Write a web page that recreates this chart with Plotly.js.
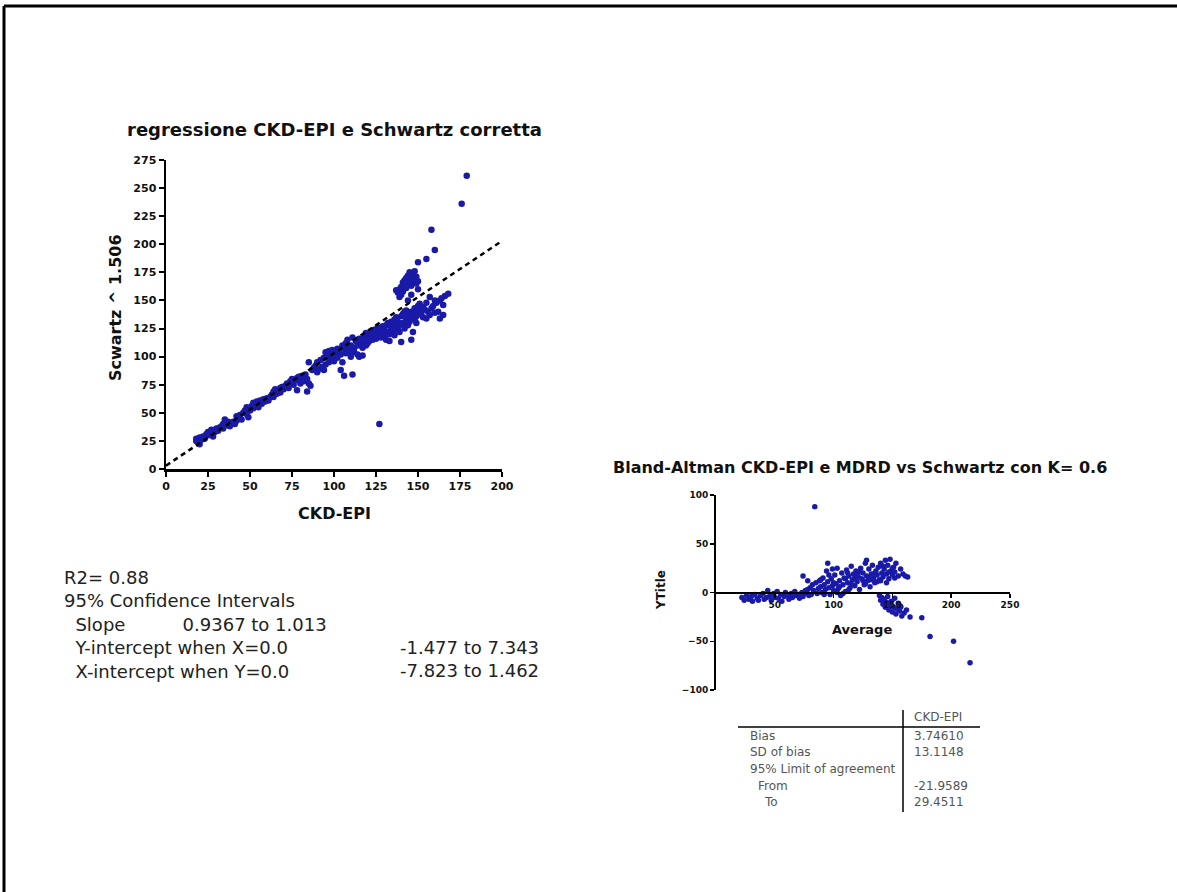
<!DOCTYPE html>
<html><head><meta charset="utf-8">
<script src="https://cdn.plot.ly/plotly-3.0.1.min.js"></script>
<style>html,body{margin:0;padding:0;background:#fff;}#chart{width:1177px;height:892px;}</style>
</head><body><div id="chart"></div>
<script>
// ---- Regression chart data (CKD-EPI vs Schwartz ^ 1.506) ----
const ckdEpi = [
 18,18,19,20,20,21,22,23,24,25,25,26,27,28,28,29,30,31,32,33,34,34,35,35,36,37,38,38,39,40,41,42,42,43,44,45,46,47,48,48,49,50,51,52,52,53,54,55,56,57,58,59,60,61,
 62,63,64,64,65,66,67,68,68,69,70,71,72,73,74,75,75,76,77,78,78,79,80,80,81,82,83,84,84,85,85,86,87,88,89,90,90,91,92,93,94,94,
 95,95,96,97,97,98,99,99,100,100,101,102,102,103,104,104,105,105,106,106,107,107,108,108,109,110,110,111,111,112,112,113,114,114,115,115,116,117,117,118,118,119,119,120,120,
 121,121,122,122,123,123,124,124,125,125,126,126,127,127,128,128,129,129,130,130,131,131,132,132,133,133,134,134,135,135,136,136,137,137,138,138,139,139,140,140,141,141,
 142,142,143,143,144,144,145,145,146,146,147,147,148,148,149,149,150,150,151,151,152,153,153,154,155,155,156,157,157,158,159,160,160,161,162,163,163,164,165,166,168,165,
 137,138,139,139,140,140,141,141,142,142,143,143,144,144,145,145,146,146,147,147,148,148,149,149,150,150,144,146,
 150,155,160,158,176,179
];
const schwartz = [
 25,27,24,22,28,26,29,27,31,30,33,32,35,29,34,33,36,34,37,38,40,36,44,41,39,42,38,40,41,42,40,43,47,45,48,44,50,52,55,49,46,52,56,59,54,57,60,55,61,58,62,60,63,61,
 64,66,69,64,71,67,70,72,68,73,71,74,76,72,78,77,80,75,79,81,70,82,80,76,83,78,84,69,80,76,95,74,88,90,92,86,95,89,97,91,88,99,
 104,93,100,105,95,102,106,98,104,96,101,107,99,105,88,102,110,95,83,107,112,103,108,115,105,110,100,84,117,108,104,114,110,102,116,100,112,108,101,118,113,121,110,116,112,
 119,114,122,117,115,120,124,118,121,116,126,119,123,40,117,125,121,127,118,124,128,115,122,130,120,114,126,131,123,129,119,133,127,135,124,131,128,122,136,113,130,138,
 125,140,133,141,128,137,135,131,115,140,122,138,133,143,136,130,141,145,147,138,139,135,144,142,134,148,140,153,137,143,145,150,139,148,140,150,134,152,137,154,156,146,
 159,157,153,160,155,162,158,166,164,168,161,170,166,172,168,175,163,171,167,173,169,176,165,171,167,160,150,155,
 184,187,195,213,236,261
];
const fitX = [0, 206];
const fitY = [3, 209];
const regTicksX = [0,25,50,75,100,125,150,175,200];
const regTicksY = [0,25,50,75,100,125,150,175,200,225,250,275];

// ---- Bland-Altman data ----
const baAverage = [
 22,24,26,28,30,31,33,35,36,38,40,41,43,44,46,47,49,50,52,53,55,56,58,59,61,62,64,65,67,68,70,71,73,74,76,77,78,79,74,78,
 80,81,82,83,84,85,86,87,88,89,90,91,92,93,94,95,95,96,97,98,99,100,101,102,103,104,105,106,107,108,109,110,111,112,113,114,115,116,117,118,119,120,121,122,123,124,125,126,127,128,128,129,130,131,132,133,134,135,136,137,138,139,140,141,142,143,144,145,146,147,148,149,150,151,152,153,155,157,159,161,163,
 100,105,110,115,120,125,130,135,140,145,150,112,118,122,127,132,137,142,147,152,89,92,96,99,103,108,113,
 139,140,141,142,143,144,145,146,147,148,149,150,151,152,153,154,155,156,157,158,160,162,165,157,175,182,202,216
];
const baDifference = [
 -5,-8,-3,-7,-4,-9,-2,-6,-8,-3,-1,-7,-5,2,-3,-8,-1,-5,1,-6,-2,-9,-4,0,-3,-7,-1,-5,1,-3,-2,-6,0,-4,2,-1,3,-3,17,12,
 5,-2,8,2,88,10,-1,4,12,6,0,15,8,3,22,30,11,5,-2,14,7,2,18,9,25,4,12,-3,20,8,15,1,23,10,17,5,27,13,19,7,22,11,16,3,25,14,20,8,30,33,17,12,24,6,19,28,15,10,22,18,26,13,30,20,16,24,33,19,28,14,34,22,18,26,21,30,17,24,19,17,16,
 10,6,14,9,18,12,15,20,12,10,25,20,15,21,9,13,11,27,21,15,13,-2,18,24,0,-1,3,
 -3,-8,-5,-12,-7,-15,-10,-4,-18,-13,-9,-20,-15,-6,-22,-17,-11,-19,-14,-24,-21,-18,-25,-15,-26,-45,-50,-72
];
const baTicksX = [50,100,150,200,250];
const baTicksY = [-100,-50,0,50,100];

// ---- Texts ----
const statsLabels = ["R2= 0.88","95% Confidence Intervals","Slope","Y-intercept when X=0.0","X-intercept when Y=0.0"];
const statsValues = ["","","0.9367 to 1.013","-1.477 to 7.343","-7.823 to 1.462"];
const tableRows = ["Bias","SD of bias","95% Limit of agreement","From","To"];
const tableValues = ["3.74610","13.1148","","-21.9589","29.4511"];
const tableHeader = "CKD-EPI";

const W = 1177, H = 892;
const px = v => v / W, py = v => 1 - v / H;
const boldFont = (s) => ({family:'DejaVu Sans, Liberation Sans, Arial', weight:'bold', size:s, color:'#111'});
const blue = '#1a1aa8';
const NB = '\u00A0';

const traces = [
  {type:'scatter', mode:'markers', x:ckdEpi, y:schwartz, xaxis:'x', yaxis:'y',
   marker:{color:blue, size:6.5}, cliponaxis:false, hoverinfo:'skip'},
  {type:'scatter', mode:'lines', x:fitX, y:fitY, xaxis:'x', yaxis:'y',
   line:{color:'#000', width:2.5, dash:'5px,4px'}, hoverinfo:'skip'},
  {type:'scatter', mode:'markers', x:baAverage, y:baDifference, xaxis:'x2', yaxis:'y2',
   marker:{color:blue, size:5.5}, cliponaxis:false, hoverinfo:'skip'}
];

const axCommon = {showline:true, linecolor:'#000', showgrid:false, zeroline:false,
  ticks:'outside', tickcolor:'#000', fixedrange:true};

function ann(text, x, y, o) {
  return Object.assign({text:text, x:px(x), y:py(y), xref:'paper', yref:'paper',
    showarrow:false, xanchor:'center', yanchor:'middle'}, o || {});
}

const annotations = [
  ann('regressione CKD-EPI e Schwartz corretta', 334, 129, {font:boldFont(18)}),
  ann('CKD-EPI', 334, 513, {font:boldFont(16)}),
  ann('Scwartz ^ 1.506', 115, 308, {font:boldFont(16), textangle:-90}),
  ann('Bland-Altman CKD-EPI e MDRD vs Schwartz con K= 0.6', 860, 468, {font:boldFont(16)}),
  ann('Average', 862, 629, {font:boldFont(13)}),
  ann('YTitle', 661, 590, {font:boldFont(12), textangle:-90})
];

// statistics block: one multi-line text for labels, one for the right-hand values
const textFont = {family:'DejaVu Sans, Open Sans, sans-serif', size:18, color:'#222'};
const indent = NB + NB;
const labelLines = [
  statsLabels[0],
  statsLabels[1],
  indent + statsLabels[2] + NB.repeat(10) + statsValues[2],
  indent + statsLabels[3],
  indent + statsLabels[4]
];
annotations.push(ann(labelLines.join('<br>'), 62, 565, {xanchor:'left', yanchor:'top', align:'left', font:textFont}));
annotations.push(ann([statsValues[3], statsValues[4]].join('<br>'), 398, 635, {xanchor:'left', yanchor:'top', align:'left', font:textFont}));

const tblFont = {family:'DejaVu Sans, Liberation Sans, Arial', size:12, color:'#555'};
annotations.push(ann(tableHeader, 912, 717, {xanchor:'left', font:tblFont}));
const rowY = [736, 752, 769, 786, 802];
const rowX = [748, 748, 748, 756, 762];
tableRows.forEach((t,i) => annotations.push(ann(t, rowX[i], rowY[i], {xanchor:'left', font:tblFont})));
tableValues.forEach((t,i) => { if (t) annotations.push(ann(t, 912, rowY[i], {xanchor:'left', font:tblFont})); });

function line(x0,y0,x1,y1,w){ return {type:'line', xref:'paper', yref:'paper', x0:px(x0), y0:py(y0), x1:px(x1), y1:py(y1), line:{color:'#000', width:w}}; }
const shapes = [
  line(4, 6, 1177, 6, 3),
  line(4, 6, 4, 892, 3),
  line(738, 727, 980, 727, 1.5),
  line(903, 710, 903, 812, 1.5)
];

const layout = {
  width:W, height:H, margin:{l:0,r:0,t:0,b:0}, paper_bgcolor:'#fff', plot_bgcolor:'rgba(0,0,0,0)',
  showlegend:false, hovermode:false,
  xaxis: Object.assign({}, axCommon, {domain:[px(166), px(502)], range:[0,200], anchor:'y',
    tickvals:regTicksX, linewidth:2.5, tickwidth:2, ticklen:5, tickfont:boldFont(11)}),
  yaxis: Object.assign({}, axCommon, {domain:[py(469), py(160)], range:[0,275], anchor:'x',
    tickvals:regTicksY, linewidth:2.5, tickwidth:2, ticklen:5, tickfont:boldFont(11)}),
  xaxis2: Object.assign({}, axCommon, {domain:[px(716), px(1010)], range:[0,250], anchor:'free',
    position:py(592.5), tickvals:baTicksX, linewidth:2, tickwidth:1.5, ticklen:4, tickfont:boldFont(9)}),
  yaxis2: Object.assign({}, axCommon, {domain:[py(690), py(495)], range:[-100,100], anchor:'x2',
    tickvals:baTicksY, linewidth:2, tickwidth:1.5, ticklen:4, tickfont:boldFont(9)}),
  annotations: annotations,
  shapes: shapes
};

Plotly.newPlot('chart', traces, layout, {staticPlot:true, displayModeBar:false});
</script>
</body></html>
